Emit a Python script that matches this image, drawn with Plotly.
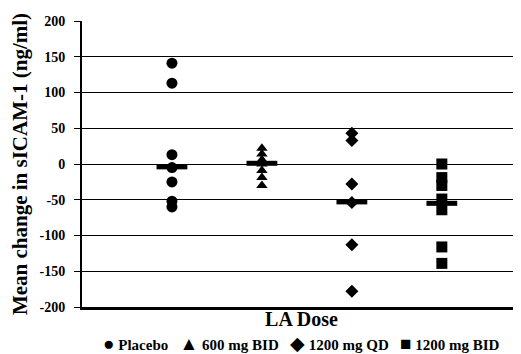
import plotly.graph_objects as go

categories = ["Placebo", "600 mg BID", "1200 mg QD", "1200 mg BID"]
cat_pos = [1, 2, 3, 4]
placebo = [141, 113, 13, -5, -25, -52, -60]
bid600 = [22, 14, 6, 0, -9, -19, -30]
qd1200 = [43, 33, -28, -54, -113, -178]
bid1200 = [0, -19, -30, -49, -64, -116, -139]
medians = [-4, 1, -53, -55]
yticks = [-200, -150, -100, -50, 0, 50, 100, 150, 200]
legend_glyphs = ["●", "▲", "◆", "■"]

series = [placebo, bid600, qd1200, bid1200]
symbols = ["circle", "triangle-up", "diamond", "square"]
sizes = [11, 10, 10, 11]

SERIF = "Liberation Serif"
fig = go.Figure()
for name, pos, vals, sym, sz in zip(categories, cat_pos, series, symbols, sizes):
    fig.add_trace(go.Scatter(
        x=[pos] * len(vals), y=vals, mode="markers", name=name, showlegend=False,
        marker=dict(symbol=sym, size=sz, color="black"),
    ))
fig.add_trace(go.Scatter(
    x=cat_pos, y=medians, mode="markers", showlegend=False,
    marker=dict(symbol="line-ew", size=22, line=dict(width=5, color="black")),
))

legend_text = "\u00a0\u00a0\u00a0".join(
    f"<span style='font-size:19px'>{g}</span>\u00a0<b>{c}</b>" for g, c in zip(legend_glyphs, categories)
)
fig.add_annotation(
    text=legend_text, xref="paper", yref="paper", x=0.501, y=-0.126,
    xanchor="center", yanchor="middle", showarrow=False,
    font=dict(family=SERIF, size=15, color="black"),
)

# page body has an 8px margin: figure occupies the window from (8, 8)
fig.update_layout(
    width=513, height=346,
    margin=dict(l=74, r=0, t=13, b=47, autoexpand=False),
    plot_bgcolor="white", paper_bgcolor="white",
    font=dict(family=SERIF, color="black"),
    showlegend=False,
    xaxis=dict(range=[0, 4.88], showticklabels=False, ticks="", showgrid=False,
               zeroline=False, showline=True, linecolor="black", linewidth=3,
               automargin=False,
               title=dict(text="<b>LA Dose</b>", standoff=3,
                          font=dict(family=SERIF, size=20, color="black"))),
    yaxis=dict(range=[-200, 200], tickvals=yticks, ticktext=[f"<b>{v}</b>" for v in yticks],
               showgrid=True, gridcolor="black",
               gridwidth=1.3, zeroline=False, showline=True, linecolor="black", linewidth=2,
               ticks="outside", ticklen=6, tickcolor="black", tickwidth=1,
               ticklabelstandoff=6, automargin=False,
               tickfont=dict(family=SERIF, size=14, color="black"),
               title=dict(text="<b>Mean change in sICAM-1 (ng/ml)</b>", standoff=13,
                          font=dict(family=SERIF, size=21, color="black"))),
)
fig.write_html("out.html")
